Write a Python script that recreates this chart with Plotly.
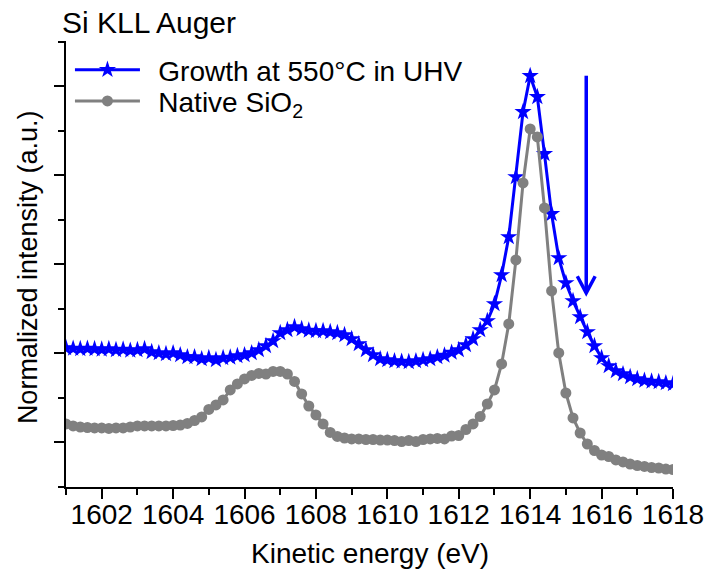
import plotly.graph_objects as go

# kinetic energy grid (eV), 0.2 eV steps
energy = [
    1601.0, 1601.2, 1601.4, 1601.6, 1601.8, 1602.0, 1602.2, 1602.4, 1602.6, 1602.8,
    1603.0, 1603.2, 1603.4, 1603.6, 1603.8, 1604.0, 1604.2, 1604.4, 1604.6, 1604.8,
    1605.0, 1605.2, 1605.4, 1605.6, 1605.8, 1606.0, 1606.2, 1606.4, 1606.6, 1606.8,
    1607.0, 1607.2, 1607.4, 1607.6, 1607.8, 1608.0, 1608.2, 1608.4, 1608.6, 1608.8,
    1609.0, 1609.2, 1609.4, 1609.6, 1609.8, 1610.0, 1610.2, 1610.4, 1610.6, 1610.8,
    1611.0, 1611.2, 1611.4, 1611.6, 1611.8, 1612.0, 1612.2, 1612.4, 1612.6, 1612.8,
    1613.0, 1613.2, 1613.4, 1613.6, 1613.8, 1614.0, 1614.2, 1614.4, 1614.6, 1614.8,
    1615.0, 1615.2, 1615.4, 1615.6, 1615.8, 1616.0, 1616.2, 1616.4, 1616.6, 1616.8,
    1617.0, 1617.2, 1617.4, 1617.6, 1617.8, 1618.0,
]

# Growth at 550°C in UHV (offset, a.u.)
growth = [
    3.124, 3.112, 3.101, 3.112, 3.101, 3.090, 3.101, 3.079, 3.090, 3.067,
    3.079, 3.101, 3.034, 3.011, 2.989, 3.011, 2.966, 2.921, 2.921, 2.876,
    2.899, 2.854, 2.899, 2.910, 2.944, 2.966, 3.011, 3.079, 3.169, 3.281,
    3.461, 3.528, 3.596, 3.551, 3.517, 3.506, 3.506, 3.483, 3.461, 3.416,
    3.326, 3.213, 3.079, 2.966, 2.876, 2.854, 2.831, 2.820, 2.809, 2.831,
    2.854, 2.876, 2.921, 2.955, 3.022, 3.079, 3.191, 3.326, 3.528, 3.730,
    4.112, 4.764, 5.618, 6.966, 8.427, 9.236, 8.764, 7.483, 6.135, 5.146,
    4.584, 4.180, 3.820, 3.483, 3.169, 2.899, 2.719, 2.607, 2.539, 2.472,
    2.427, 2.393, 2.371, 2.360, 2.337, 2.315,
]

# Native SiO2 (a.u.)
native = [
    1.416, 1.371, 1.348, 1.337, 1.326, 1.326, 1.315, 1.326, 1.326, 1.348,
    1.371, 1.371, 1.371, 1.371, 1.371, 1.382, 1.393, 1.427, 1.494, 1.573,
    1.742, 1.843, 1.955, 2.180, 2.315, 2.427, 2.506, 2.551, 2.539, 2.596,
    2.596, 2.539, 2.371, 2.090, 1.820, 1.618, 1.416, 1.225, 1.135, 1.101,
    1.079, 1.079, 1.067, 1.067, 1.056, 1.056, 1.045, 1.022, 1.045, 1.022,
    1.067, 1.079, 1.090, 1.079, 1.146, 1.157, 1.292, 1.416, 1.584, 1.865,
    2.180, 2.764, 3.663, 5.101, 6.831, 8.045, 7.865, 6.270, 4.404, 3.011,
    2.112, 1.551, 1.213, 0.966, 0.820, 0.719, 0.685, 0.607, 0.562, 0.517,
    0.483, 0.461, 0.438, 0.427, 0.404, 0.393,
]

assert len(energy) == len(growth) == len(native)

x_range = [1601, 1618]
y_range = [0, 10.02]

# arrow marking the decrease (energy, top, bottom)
arrow_x, arrow_top, arrow_bottom = 1615.57, 9.24, 4.36

FONT = "Liberation Sans, Arial, sans-serif"
BLUE = "#0000FF"
GREY = "#808080"
GAP = "\u00a0\u2009"

fig = go.Figure()
fig.add_trace(go.Scatter(
    x=energy, y=growth, mode="lines+markers", name=GAP + "Growth at 550°C in UHV",
    line=dict(color=BLUE, width=3),
    marker=dict(symbol="star", size=13, color=BLUE),
    legend="legend",
))
fig.add_trace(go.Scatter(
    x=energy, y=native, mode="lines+markers", name=GAP + "Native SiO<sub>2</sub>",
    line=dict(color=GREY, width=3),
    marker=dict(symbol="circle", size=11, color=GREY),
    legend="legend2",
))

# arrow: shaft and open head
hx, hy = 0.25, 0.375
fig.add_shape(type="line", xref="x", yref="y", x0=arrow_x, x1=arrow_x,
              y0=arrow_top, y1=arrow_bottom, line=dict(color=BLUE, width=3.5))
fig.add_shape(type="path", xref="x", yref="y",
              path=f"M{arrow_x - hx},{arrow_bottom + hy} L{arrow_x},{arrow_bottom} L{arrow_x + hx},{arrow_bottom + hy}",
              line=dict(color=BLUE, width=3.5))

# axis titles placed as annotations so the plot frame stays fixed
fig.add_annotation(text="Kinetic energy (eV)", xref="paper", yref="paper",
                   x=0.5, y=-0.149, xanchor="center", yanchor="middle",
                   showarrow=False, font=dict(size=28, family=FONT, color="black"))
fig.add_annotation(text="Normalized intensity (a.u.)", xref="paper", yref="paper",
                   x=-0.0626, y=0.493, xanchor="center", yanchor="middle", textangle=-90,
                   showarrow=False, font=dict(size=27, family=FONT, color="black"))

common = dict(showgrid=False, zeroline=False, linecolor="black", linewidth=2,
              tickcolor="black", tickwidth=2, ticklen=10, automargin=False)

legend_common = dict(xanchor="left", yanchor="middle", x=0.0065,
                     bgcolor="rgba(0,0,0,0)", font=dict(size=28, family=FONT, color="black"),
                     itemwidth=65, borderwidth=0)

fig.update_layout(
    width=704, height=579,
    margin=dict(l=66, r=31, t=41, b=92),
    paper_bgcolor="white", plot_bgcolor="white",
    font=dict(family=FONT, size=26, color="black"),
    title=dict(text="Si KLL Auger", x=62 / 704, xref="container", xanchor="left",
               y=1 - 22 / 579, yref="container", yanchor="middle",
               font=dict(size=30, family=FONT, color="black")),
    showlegend=True,
    legend=dict(y=0.935, **legend_common),
    legend2=dict(y=0.865, **legend_common),
    xaxis=dict(range=x_range, ticks="outside", tick0=1602, dtick=2,
               minor=dict(dtick=1, tick0=1601, ticklen=6, tickwidth=2, tickcolor="black", ticks="outside"),
               tickfont=dict(size=28, family=FONT, color="black"), ticklabelstandoff=-9,
               ticklabeloverflow="allow",
               **common),
    yaxis=dict(range=y_range, ticks="outside", tick0=1, dtick=2, showticklabels=False,
               minor=dict(dtick=1, tick0=0, ticklen=6, tickwidth=2, tickcolor="black", ticks="outside"),
               **common),
    xaxis2=dict(range=x_range, overlaying="x", side="top", ticks="inside", tick0=1602, dtick=2,
                showticklabels=False,
                minor=dict(dtick=1, tick0=1601, ticklen=5, tickwidth=2, tickcolor="black", ticks="inside"),
                **common),
    yaxis2=dict(range=y_range, overlaying="y", side="right", ticks="inside", tick0=1, dtick=2,
                showticklabels=False,
                minor=dict(dtick=1, tick0=0, ticklen=5, tickwidth=2, tickcolor="black", ticks="inside"),
                **common),
)

# page body has a default 8px margin; remove it so the figure sits at the window origin
fig.write_html("out.html", config={"displayModeBar": False},
               post_script="document.body.style.margin='0';document.body.style.overflow='hidden';")
